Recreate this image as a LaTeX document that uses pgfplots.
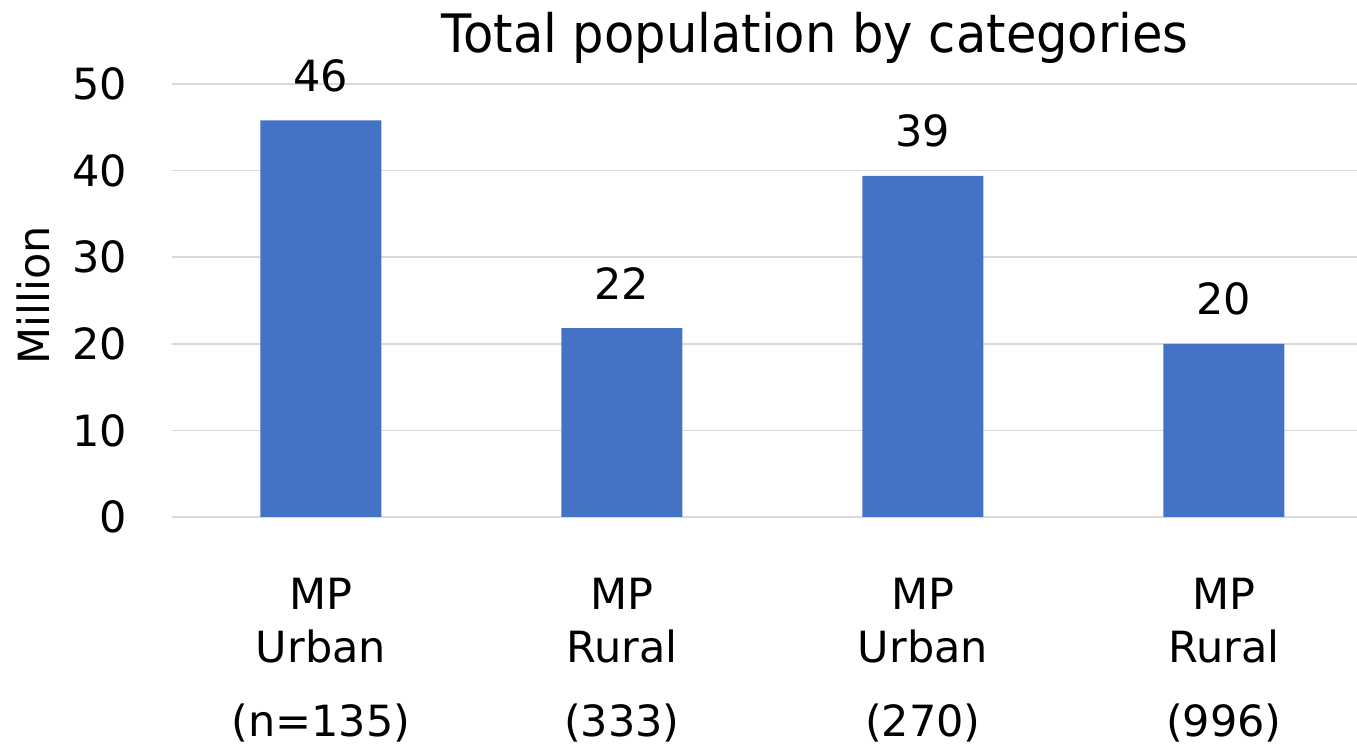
\documentclass[border=0pt]{standalone}
\usepackage{pgfplots}
\pgfplotsset{compat=1.18}
\usepackage{fontspec}
\setmainfont{DejaVu Sans}

\definecolor{barblue}{HTML}{4472C4}
\definecolor{gridgray}{HTML}{D9D9D9}
\newcommand\lblfont{\fontsize{43bp}{53bp}\selectfont}
\newcommand\titlefont{\fontsize{53bp}{60bp}\selectfont}

\begin{document}
\begin{tikzpicture}
\useasboundingbox (0,0) rectangle (1357bp,752bp);
\begin{axis}[
  at={(172bp,235bp)}, anchor=south west,
  scale only axis,
  width=1185bp, height=433bp,
  xmin=-0.495, xmax=3.442,
  ymin=0, ymax=50,
  ytick={0,10,...,50},
  xtick={0,1,2,3},
  xticklabels={{MP\\Urban\\[21bp](n=135)},{MP\\Rural\\[21bp](333)},{MP\\Urban\\[21bp](270)},{MP\\Rural\\[21bp](996)}},
  major tick length=0pt,
  axis line style={draw=none},
  ymajorgrids,
  grid style={draw=gridgray, line width=1.6bp},
  /pgf/number format/assume math mode=true,
  yticklabel style={font=\lblfont, inner sep=0pt, anchor=east, xshift=-45bp},
  xticklabel style={font=\lblfont, align=center, inner sep=0pt, anchor=north, yshift=-61bp},
  title={\scalebox{0.935}[1]{Total population by categories}},
  title style={font=\titlefont, at={(0.5426,1)}, anchor=base, yshift=26bp, inner sep=0pt},
  ylabel={Million},
  ylabel style={font=\lblfont, at={(axis description cs:-0.1165,0.5115)}, anchor=center, inner sep=0pt},
  ybar, bar width=121bp,
  nodes near coords={\pgfmathprintnumber[fixed,precision=0]{\pgfplotspointmeta}},
  every node near coord/.append style={font=\lblfont, anchor=base, yshift=29bp, inner sep=0pt, text=black},
]
\addplot[fill=barblue, draw=none] coordinates {(0,45.8) (1,21.8) (2,39.4) (3,20.0)};
\end{axis}
\end{tikzpicture}
\end{document}
